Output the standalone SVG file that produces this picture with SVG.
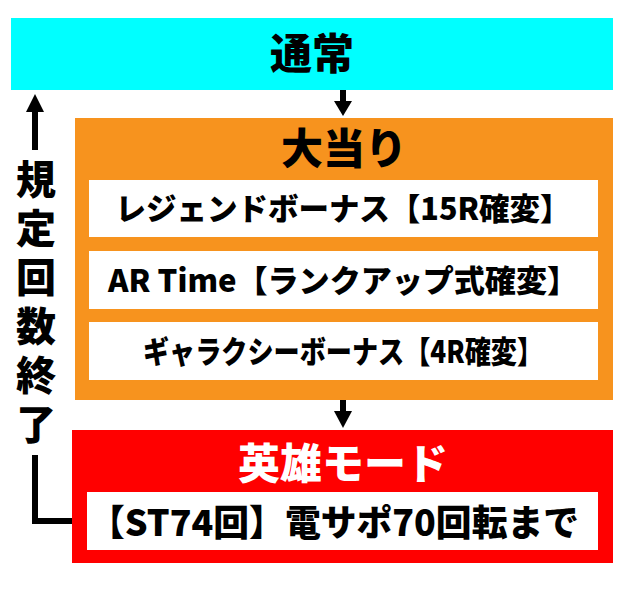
<svg xmlns="http://www.w3.org/2000/svg" width="640" height="590" viewBox="0 0 640 590">
<style>
text{font-family:"Noto Sans CJK JP","Noto Sans",sans-serif;font-weight:900;text-anchor:middle}
.w{fill:#fff}
.t{font-size:31px;fill:#000}
.v{font-size:40px}
</style>
<rect width="640" height="590" fill="#fff"/>
<g id="normal"><rect x="11" y="18" width="602" height="72" fill="#00ffff"/><text x="312" y="69" font-size="42">通常</text></g>
<g id="bonus"><rect x="75" y="118" width="538" height="282" fill="#f7931e"/><text x="344" y="164" font-size="42">大当り</text>
<rect class="w" x="89" y="180" width="509" height="57"/><text class="t" x="343" y="220" textLength="455" lengthAdjust="spacingAndGlyphs">レジェンドボーナス【15R確変】</text>
<rect class="w" x="89" y="251" width="509" height="58"/><text class="t" x="343" y="292" textLength="470" lengthAdjust="spacingAndGlyphs">AR Time【ランクアップ式確変】</text>
<rect class="w" x="89" y="322" width="509" height="58"/><text class="t" x="343" y="363" textLength="400" lengthAdjust="spacingAndGlyphs">ギャラクシーボーナス【4R確変】</text></g>
<g id="hero"><rect x="72" y="430" width="541" height="133" fill="#ff0000"/><text x="343" y="479" font-size="42" fill="#fff">英雄モード</text>
<rect class="w" x="87" y="492" width="511" height="58"/><text x="334" y="536" font-size="36" textLength="490" lengthAdjust="spacingAndGlyphs">【ST74回】電サポ70回転まで</text></g>
<g id="connectors" stroke="#000" stroke-width="6" fill="none">
<line x1="343" y1="90" x2="343" y2="104"/><polygon points="334,101 352,101 343,116" fill="#000" stroke="none"/>
<line x1="343" y1="400" x2="343" y2="414"/><polygon points="334,411 352,411 343,428" fill="#000" stroke="none"/>
<polyline points="72,521 35,521 35,455"/>
<line x1="35" y1="150" x2="35" y2="108"/><polygon points="26,112 44,112 35,94" fill="#000" stroke="none"/>
</g>
<g id="label"><text class="v" x="36" y="194">規</text><text class="v" x="36" y="243">定</text><text class="v" x="36" y="292">回</text><text class="v" x="36" y="341">数</text><text class="v" x="36" y="390">終</text><text class="v" x="36" y="439">了</text></g>
</svg>
